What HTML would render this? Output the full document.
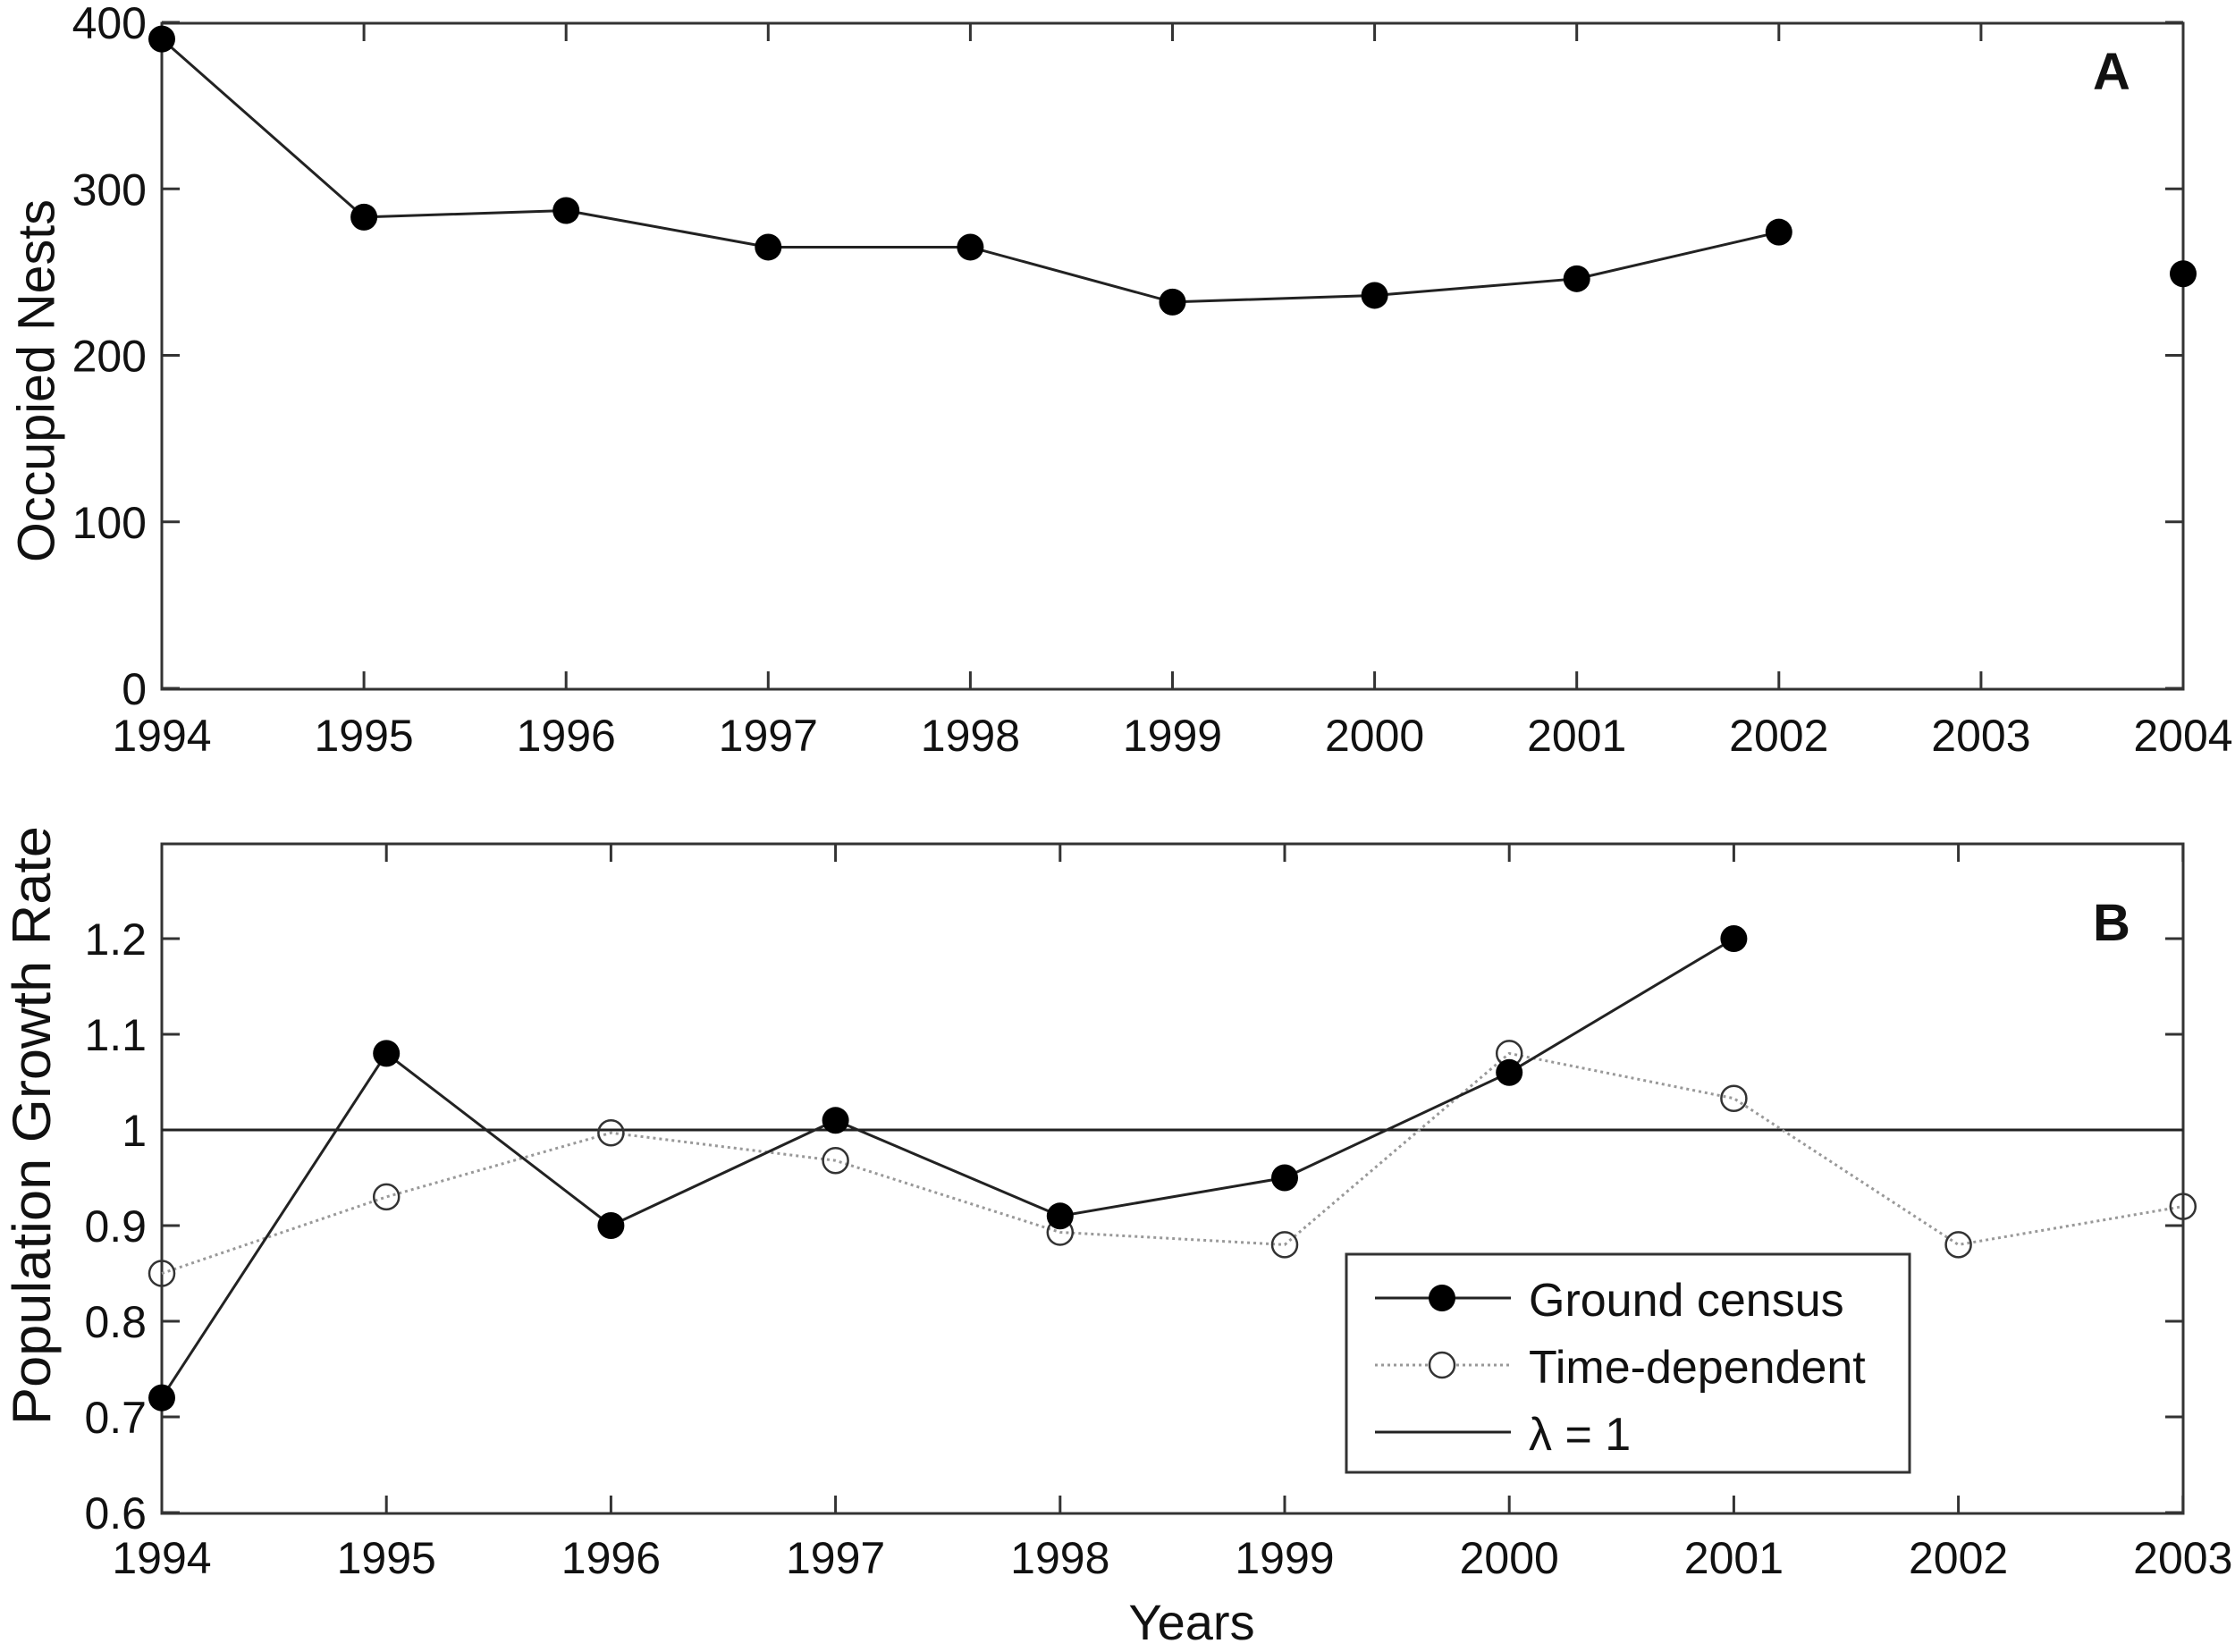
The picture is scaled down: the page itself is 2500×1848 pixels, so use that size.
<!DOCTYPE html>
<html><head><meta charset="utf-8"><style>
html,body{margin:0;padding:0;background:#fff;}
svg text{font-family:"Liberation Sans",sans-serif;fill:#111;}
</style></head><body>
<svg width="2500" height="1843" viewBox="0 0 2500 1843" xmlns="http://www.w3.org/2000/svg">
<g stroke="#333" stroke-width="3" fill="none">
<rect x="181" y="26" width="2261" height="745"/>
<rect x="181" y="944" width="2261" height="749"/>
</g>
<g id="ticks" stroke="#333" stroke-width="3"></g>
<g id="content"></g>
<text x="45" y="426" font-size="58" text-anchor="middle" transform="rotate(-90 45 426)" dominant-baseline="middle" textLength="406" lengthAdjust="spacingAndGlyphs">Occupied Nests</text>
<text x="40" y="1259" font-size="60" text-anchor="middle" transform="rotate(-90 40 1259)" dominant-baseline="middle" textLength="670" lengthAdjust="spacingAndGlyphs">Population Growth Rate</text>
<text x="1333" y="1834" font-size="56" text-anchor="middle">Years</text>
<text x="2362" y="100" font-size="58" font-weight="bold" text-anchor="middle">A</text>
<text x="2362" y="1052" font-size="58" font-weight="bold" text-anchor="middle">B</text>
<rect x="1506" y="1403" width="630" height="244" fill="#fff" stroke="#333" stroke-width="3"/>
<line x1="1538" y1="1452" x2="1690" y2="1452" stroke="#222" stroke-width="3"/>
<circle cx="1613" cy="1452" r="15" fill="#000"/>
<line x1="1538" y1="1527" x2="1690" y2="1527" stroke="#999" stroke-width="3" stroke-dasharray="3,4"/>
<circle cx="1613" cy="1527" r="14" fill="#fff" stroke="#333" stroke-width="2.5"/>
<line x1="1538" y1="1602" x2="1690" y2="1602" stroke="#222" stroke-width="3"/>
<text x="1710" y="1472" font-size="52">Ground census</text>
<text x="1710" y="1547" font-size="52">Time-dependent</text>
<text x="1710" y="1622" font-size="52">λ = 1</text>
</svg>
<script>
(function(){
var NS="http://www.w3.org/2000/svg";
var t=document.getElementById("ticks"),c=document.getElementById("content");
function el(p,n,a,txt){var e=document.createElementNS(NS,n);for(var k in a)e.setAttribute(k,a[k]);if(txt!=null)e.textContent=txt;p.appendChild(e);return e;}
var L=181,R=2442,T1=26,B1=771;
function xt(y){return L+(y-1994)*226.1;}
function yt(v){return 770-v*1.8625;}
for(var y=1994;y<=2004;y++){var x=xt(y);
 el(t,"line",{x1:x,y1:B1,x2:x,y2:B1-20});el(t,"line",{x1:x,y1:T1,x2:x,y2:T1+20});
 el(c,"text",{x:x,y:840,"font-size":50,"text-anchor":"middle"},String(y));}
for(var v=0;v<=400;v+=100){var yy=yt(v);
 el(t,"line",{x1:L,y1:yy,x2:L+20,y2:yy});el(t,"line",{x1:R,y1:yy,x2:R-20,y2:yy});
 el(c,"text",{x:164,y:yy+18,"font-size":50,"text-anchor":"end"},String(v));}
var top=[[1994,390],[1995,283],[1996,287],[1997,265],[1998,265],[1999,232],[2000,236],[2001,246],[2002,274]];
el(c,"polyline",{points:top.map(function(p){return xt(p[0])+","+yt(p[1]);}).join(" "),fill:"none",stroke:"#222","stroke-width":3});
top.concat([[2004,249]]).forEach(function(p){el(c,"circle",{cx:xt(p[0]),cy:yt(p[1]),r:15,fill:"#000"});});
var T2=944,B2=1693;
function xb(y){return L+(y-1994)*251.2;}
function yb(v){return 1692-(v-0.6)*1070;}
for(var y=1994;y<=2003;y++){var x=xb(y);
 el(t,"line",{x1:x,y1:B2,x2:x,y2:B2-20});el(t,"line",{x1:x,y1:T2,x2:x,y2:T2+20});
 el(c,"text",{x:x,y:1760,"font-size":50,"text-anchor":"middle"},String(y));}
var labs=["0.6","0.7","0.8","0.9","1","1.1","1.2"];
for(var i=0;i<labs.length;i++){var yy=yb(0.6+i*0.1);
 el(t,"line",{x1:L,y1:yy,x2:L+20,y2:yy});el(t,"line",{x1:R,y1:yy,x2:R-20,y2:yy});
 el(c,"text",{x:164,y:yy+18,"font-size":50,"text-anchor":"end"},labs[i]);}
el(c,"line",{x1:L,y1:yb(1),x2:R,y2:yb(1),stroke:"#222","stroke-width":3});
var td=[0.85,0.93,0.997,0.968,0.893,0.88,1.08,1.033,0.88,0.92];
el(c,"polyline",{points:td.map(function(v,i){return xb(1994+i)+","+yb(v);}).join(" "),fill:"none",stroke:"#999","stroke-width":3,"stroke-dasharray":"3,4"});
var gc=[0.72,1.08,0.90,1.01,0.91,0.95,1.06,1.20];
el(c,"polyline",{points:gc.map(function(v,i){return xb(1994+i)+","+yb(v);}).join(" "),fill:"none",stroke:"#222","stroke-width":3});
td.forEach(function(v,i){el(c,"circle",{cx:xb(1994+i),cy:yb(v),r:14,fill:"none",stroke:"#333","stroke-width":2.5});});
gc.forEach(function(v,i){el(c,"circle",{cx:xb(1994+i),cy:yb(v),r:15,fill:"#000"});});
})();
</script>
</body></html>
